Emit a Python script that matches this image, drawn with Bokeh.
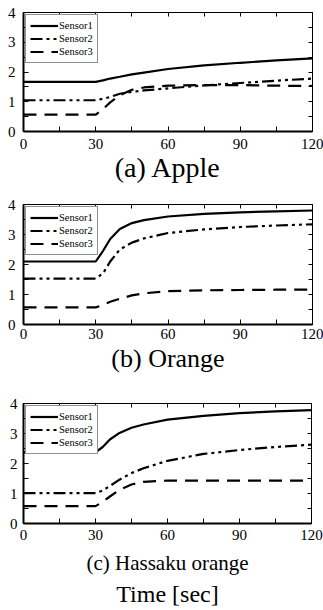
from bokeh.plotting import figure
from bokeh.models import FixedTicker, LinearAxis, Range1d, Title, Legend, CustomJSTickFormatter
from bokeh.layouts import column
from bokeh.embed import file_html
from bokeh.resources import INLINE

# Time axis [sec]
time = [0, 30, 33, 36, 40, 45, 50, 60, 75, 90, 105, 120]

# (a) Apple
apple_s1 = [1.67, 1.67, 1.72, 1.78, 1.84, 1.92, 1.98, 2.10, 2.22, 2.31, 2.39, 2.46]
apple_s2 = [1.05, 1.05, 1.10, 1.16, 1.27, 1.33, 1.38, 1.45, 1.55, 1.63, 1.71, 1.78]
apple_s3 = [0.57, 0.57, 0.75, 0.98, 1.22, 1.40, 1.48, 1.54, 1.56, 1.56, 1.54, 1.53]

# (b) Orange
orange_s1 = [2.10, 2.10, 2.45, 2.85, 3.18, 3.38, 3.48, 3.60, 3.69, 3.74, 3.77, 3.80]
orange_s2 = [1.53, 1.53, 1.70, 2.10, 2.50, 2.73, 2.87, 3.05, 3.17, 3.25, 3.30, 3.34]
orange_s3 = [0.57, 0.57, 0.65, 0.76, 0.86, 0.97, 1.04, 1.11, 1.14, 1.15, 1.16, 1.16]

# (c) Hassaku orange
hassaku_s1 = [2.37, 2.37, 2.55, 2.80, 3.02, 3.19, 3.30, 3.46, 3.59, 3.68, 3.74, 3.78]
hassaku_s2 = [1.01, 1.01, 1.10, 1.25, 1.46, 1.68, 1.84, 2.09, 2.32, 2.45, 2.55, 2.63]
hassaku_s3 = [0.58, 0.58, 0.72, 0.90, 1.12, 1.30, 1.39, 1.43, 1.43, 1.43, 1.43, 1.43]

series_names = ["Sensor1", "Sensor2", "Sensor3"]
x_ticks = [0, 30, 60, 90, 120]
x_minor = [15, 45, 75, 105]
y_ticks = [0, 1, 2, 3, 4]
y_minor = [0.5, 1.5, 2.5, 3.5]

FONT = "Liberation Serif"
DASHES = ["solid", "12 4 3 4 3 4", "13 8"]


def style_axis(ax, main=True):
    ax.major_tick_in = 5
    ax.major_tick_out = 0
    ax.minor_tick_in = 5
    ax.minor_tick_out = 0
    ax.major_tick_line_color = "black"
    ax.minor_tick_line_color = "black"
    ax.axis_line_color = "black"
    ax.axis_line_width = 2 if main else 1
    ax.major_label_text_font = FONT
    ax.major_label_text_font_size = "15px"
    ax.major_label_text_color = "black"
    ax.axis_label_text_font = FONT
    ax.axis_label_text_font_style = "normal"
    ax.axis_label_text_color = "black"


def panel(label, lsize, s1, s2, s3, fw, fh, bl, br, bt, bb, xstand, ystand, lstand, extra=None):
    p = figure(frame_width=fw, frame_height=fh, x_range=Range1d(0, 120), y_range=Range1d(0, 4),
               output_backend="svg", toolbar_location=None,
               min_border_left=bl, min_border_right=br, min_border_top=bt, min_border_bottom=bb)
    p.grid.visible = False
    p.outline_line_color = "black"
    p.outline_line_width = 1
    rs = []
    for s, d in zip([s1, s2, s3], DASHES):
        rs.append(p.line(time, s, line_width=2.2, line_color="black", line_dash=d))
    p.xaxis.ticker = FixedTicker(ticks=x_ticks, minor_ticks=x_minor)
    p.yaxis.ticker = FixedTicker(ticks=y_ticks, minor_ticks=y_minor)
    style_axis(p.xaxis[0])
    style_axis(p.yaxis[0])
    p.xaxis.major_label_standoff = xstand
    p.yaxis.major_label_standoff = ystand
    p.xaxis.axis_label = label
    p.xaxis.axis_label_text_font_size = lsize
    p.xaxis.axis_label_standoff = lstand
    blank = CustomJSTickFormatter(code="return ''")
    top = LinearAxis(ticker=FixedTicker(ticks=x_ticks, minor_ticks=x_minor), formatter=blank)
    right = LinearAxis(ticker=FixedTicker(ticks=y_ticks, minor_ticks=y_minor), formatter=blank)
    for ax in (top, right):
        style_axis(ax, main=False)
        ax.major_tick_in = 4
        ax.minor_tick_in = 4
        ax.major_label_standoff = 0
        ax.major_label_text_font_size = "1px"
    p.add_layout(top, "above")
    p.add_layout(right, "right")
    legend = Legend(items=[(n, [r]) for n, r in zip(series_names, rs)], location="top_left",
                    label_text_font=FONT, label_text_font_size="10.5px", label_text_color="black",
                    glyph_width=28, glyph_height=13, label_height=13, label_standoff=1,
                    spacing=0, padding=4, margin=2, border_line_color="#222222",
                    border_line_width=1, background_fill_color="white", background_fill_alpha=1)
    p.add_layout(legend)
    if extra:
        p.add_layout(Title(text=extra, align="center", text_font=FONT, text_font_size="24px",
                           text_font_style="normal", text_color="black", standoff=2), "below")
    return p


pa = panel("(a) Apple", "28px", apple_s1, apple_s2, apple_s3,
           289, 119, 23, 11, 12, 64, 7, 8, 0)
pb = panel("(b) Orange", "26px", orange_s1, orange_s2, orange_s3,
           289, 120, 23, 11, 9, 70, 4, 8, 2)
pc = panel("(c) Hassaku orange", "21px", hassaku_s1, hassaku_s2, hassaku_s3,
           288, 120, 19, 16, 9, 85, 6, 6, 8, extra="Time [sec]")

layout = column(pa, pb, pc, spacing=0)
open("out.html", "w").write(file_html(layout, INLINE))
